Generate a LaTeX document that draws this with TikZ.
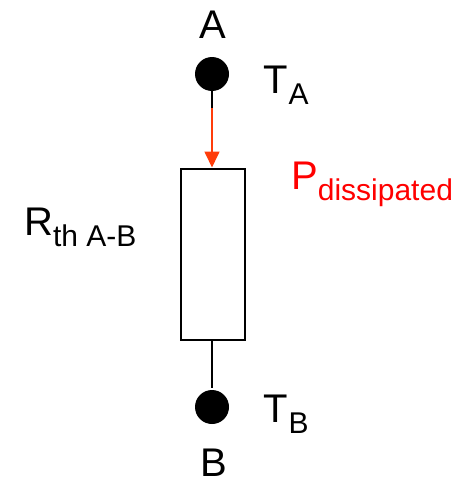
\documentclass[tikz,border=0pt]{standalone}
\usepackage{fontspec}
\setmainfont{Liberation Sans}
\usetikzlibrary{arrows.meta}
\definecolor{arrowred}{RGB}{255,60,10}
\newcommand{\subt}[1]{\kern1pt\raisebox{-11pt}{\fontsize{30}{30}\selectfont #1}}
\tikzset{x=1pt,y=-1pt,
 dot/.style={circle,fill=black,inner sep=0pt,minimum size=34pt},
 lab/.style={inner sep=0pt,font=\fontsize{40}{40}\selectfont},
 wire/.style={line width=1.7pt},
 res/.style={draw=black,line width=2pt,fill=white,inner sep=0pt,minimum width=64pt,minimum height=171pt}}
\begin{document}
\begin{tikzpicture}
\useasboundingbox (0,0) rectangle (463,479);
\node[dot] (a) at (212,74) {};
\node[dot] (b) at (212,407) {};
\node[res] (r) at (212.5,254) {};
\coordinate (e) at (212,116);
\coordinate (s) at (212,108);
\coordinate (f) at (212,388);
\draw[wire] (a) -- (e);
\draw[wire] (r.south -| f) -- (f);
\draw[arrowred,wire,-{Stealth[length=16pt,width=15pt,inset=0pt]}] (s) -- (r.north -| s);
\node[lab,anchor=base] (la) at (213,38) {A};
\node[lab,anchor=base] (lb) at (213.5,476.5) {B};
\node[lab,anchor=base west] (ta) at (263,93) {T\subt{A}};
\node[lab,anchor=base west] (tb) at (263,422) {T\subt{B}};
\node[lab,anchor=base west,text=red] (p) at (291,189) {P\kern-1pt\subt{dissipated}};
\node[lab,anchor=base west] (rth) at (24,235) {R\kern-1pt\subt{th A-B}};
\end{tikzpicture}
\end{document}
